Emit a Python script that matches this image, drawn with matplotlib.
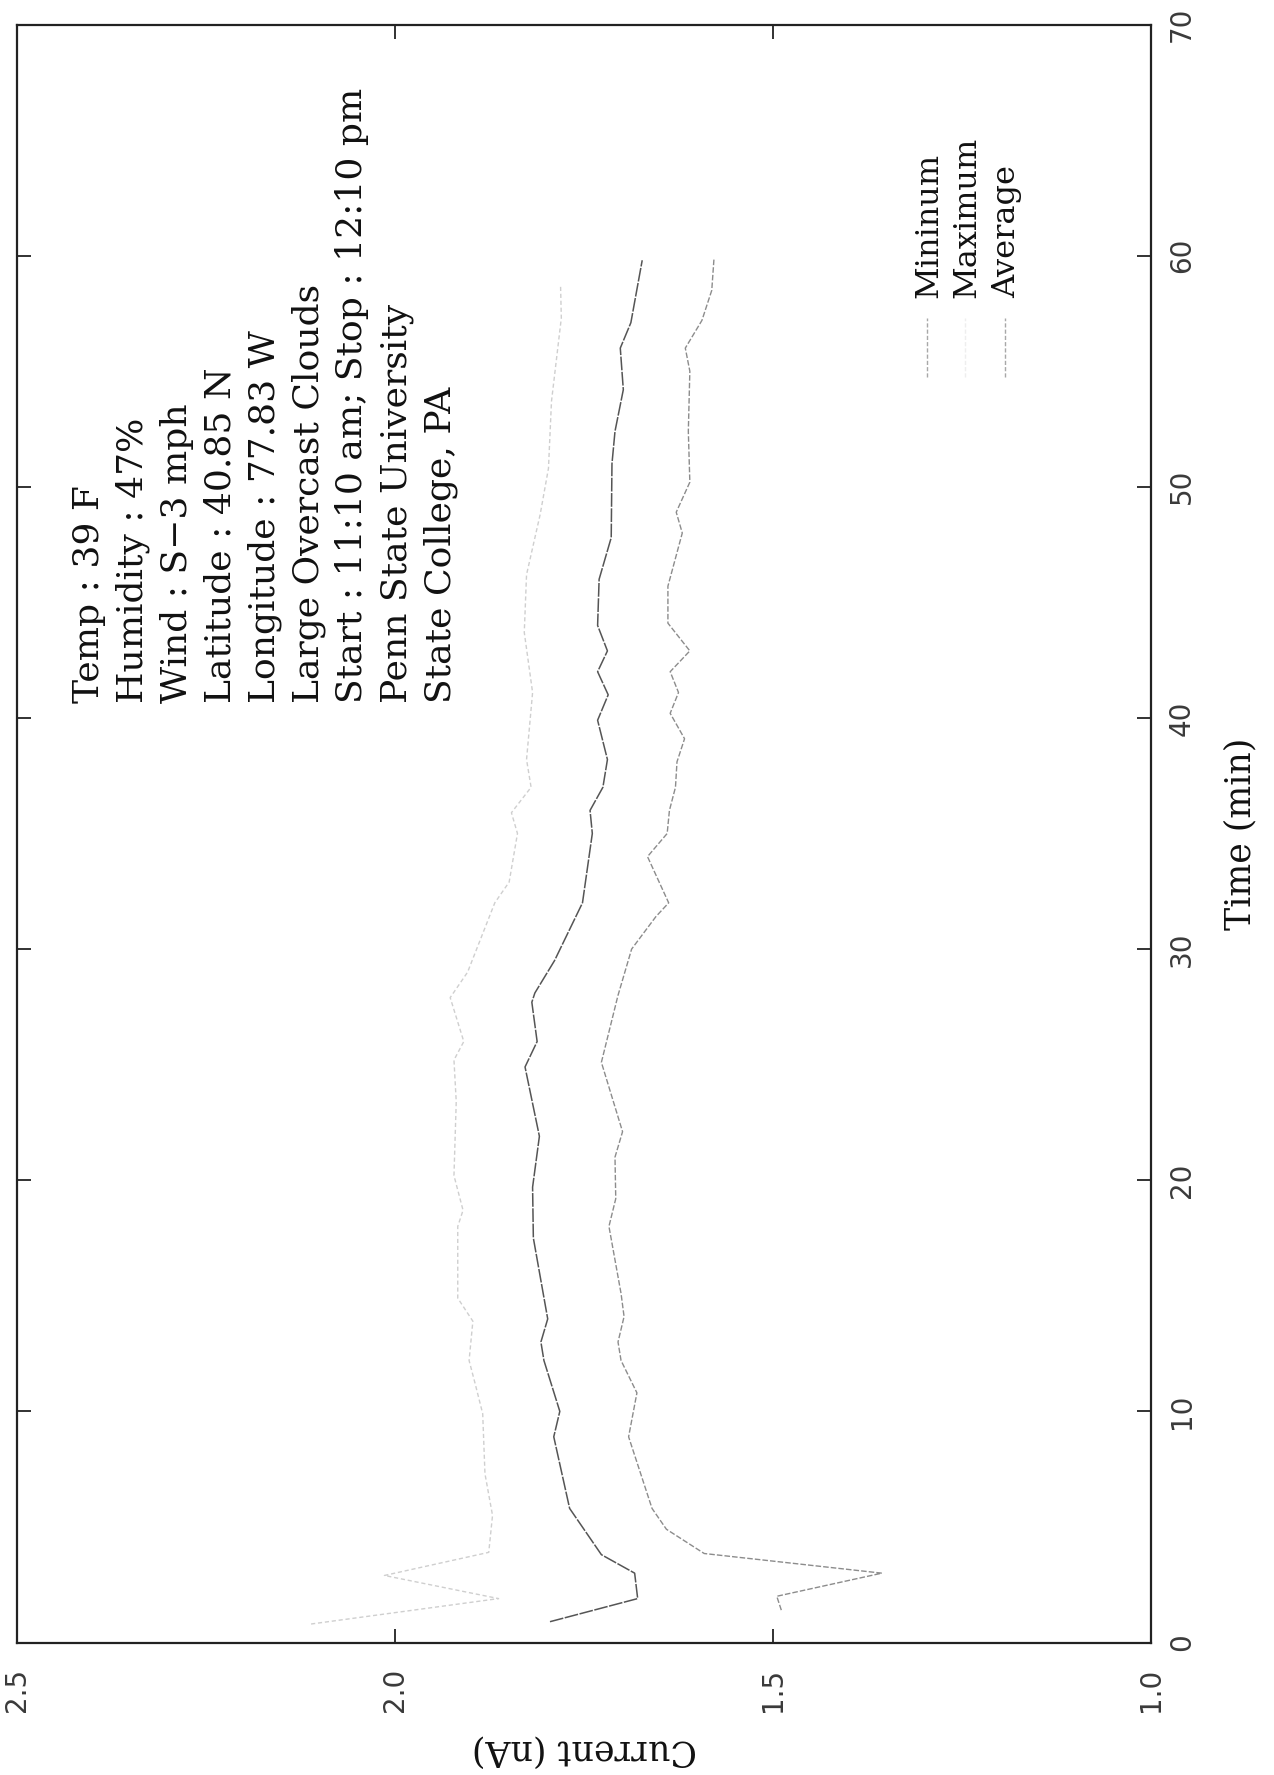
import matplotlib
matplotlib.use("Agg")
import matplotlib.pyplot as plt
from matplotlib.lines import Line2D

# ---------------- data ----------------
max_time = [0.8, 1.9, 2.9, 3.9, 5.5, 7.3, 9.9, 11.2, 12.2, 13.9, 14.9, 18.0, 18.7,
            20.2, 23.4, 25.2, 26.0, 27.9, 29.0, 32.0, 32.9, 35.0, 35.9, 37.0, 38.2,
            41.1, 43.7, 46.2, 48.8, 50.8, 53.7, 57.3, 58.7]
max_current = [2.111, 1.863, 2.014, 1.876, 1.871, 1.881, 1.884, 1.894, 1.902, 1.897,
               1.917, 1.917, 1.910, 1.922, 1.919, 1.922, 1.909, 1.927, 1.904, 1.868,
               1.849, 1.838, 1.846, 1.820, 1.826, 1.818, 1.829, 1.826, 1.808, 1.797,
               1.793, 1.780, 1.781]

avg_time = [0.9, 1.9, 3.0, 3.8, 5.8, 8.9, 10.0, 12.2, 13.0, 14.0, 17.5, 19.7, 21.9,
            24.9, 26.0, 27.7, 28.1, 29.5, 32.0, 35.0, 36.0, 37.0, 38.2, 39.9, 41.0,
            42.0, 42.9, 44.0, 46.0, 47.8, 51.0, 52.4, 54.2, 56.0, 57.1, 59.8]
avg_current = [1.795, 1.679, 1.683, 1.727, 1.769, 1.790, 1.782, 1.803, 1.807, 1.798,
               1.817, 1.818, 1.809, 1.828, 1.812, 1.819, 1.815, 1.789, 1.752, 1.739,
               1.742, 1.725, 1.719, 1.732, 1.718, 1.732, 1.719, 1.732, 1.730, 1.714,
               1.713, 1.709, 1.698, 1.702, 1.688, 1.673]

min_time = [1.4, 2.0, 3.0, 3.85, 4.9, 5.8, 8.9, 10.8, 12.2, 13.0, 14.1, 15.1, 18.0,
            19.2, 21.0, 22.1, 25.1, 28.0, 30.0, 31.4, 32.0, 34.0, 35.0, 36.0, 37.0,
            38.1, 39.1, 40.2, 41.1, 42.0, 42.9, 44.1, 45.7, 48.0, 48.9, 50.2, 52.4,
            55.0, 56.0, 57.2, 58.5, 59.9]
min_current = [1.489, 1.495, 1.356, 1.591, 1.641, 1.660, 1.691, 1.680, 1.701, 1.705,
               1.697, 1.701, 1.717, 1.708, 1.709, 1.699, 1.727, 1.705, 1.687, 1.655,
               1.638, 1.666, 1.640, 1.637, 1.629, 1.627, 1.617, 1.636, 1.625, 1.636,
               1.610, 1.639, 1.639, 1.620, 1.628, 1.610, 1.612, 1.610, 1.616, 1.594,
               1.581, 1.578]

current_ticks = [2.5, 2.0, 1.5, 1.0]
current_labels = ["2.5", "2.0", "1.5", "1.0"]
time_ticks = [0, 10, 20, 30, 40, 50, 60, 70]
time_labels = ["0", "10", "20", "30", "40", "50", "60", "70"]

legend_labels = ["Mininum", "Maximum", "Average"]

info_lines = ["Temp : 39 F",
              "Humidity : 47%",
              "Wind : S\u22123 mph",
              "Latitude : 40.85 N",
              "Longitude : 77.83 W",
              "Large Overcast Clouds",
              "Start : 11:10 am; Stop : 12:10 pm",
              "Penn State University",
              "State College, PA"]

# ---------------- styles ----------------
MIN_C = "#8c8c8c"
AVG_C = "#555555"
MAX_C = "#cfcfcf"
SERIF = ["DejaVu Serif"]
SANS = ["DejaVu Sans"]

FIG_W, FIG_H = 1274, 1775
AX_L, AX_R, AX_T, AX_B = 17, 1151, 24.5, 1642.5   # pixel frame of the axes

fig = plt.figure(figsize=(FIG_W / 100, FIG_H / 100), dpi=100)
ax = fig.add_axes([AX_L / FIG_W, 1 - AX_B / FIG_H,
                   (AX_R - AX_L) / FIG_W, (AX_B - AX_T) / FIG_H])

ax.plot(max_current, max_time, color=MAX_C, lw=1.0, ls=(0, (3, 2)))
ax.plot(avg_current, avg_time, color=AVG_C, lw=1.1, ls=(0, (9, 1)))
ax.plot(min_current, min_time, color=MIN_C, lw=1.0, ls=(0, (4, 1.5)))

ax.set_xlim(2.5, 1.0)
ax.set_ylim(0, 70)

ax.set_xticks(current_ticks)
ax.set_xticklabels(current_labels, rotation=90, family=SANS, fontsize=20)
ax.set_yticks(time_ticks)
ax.yaxis.tick_right()
ax.set_yticklabels(time_labels, rotation=90, family=SANS, fontsize=20, va="center")
ax.tick_params(axis="both", direction="in", length=10, width=1.3,
               top=True, bottom=True, left=True, right=True, colors="#222222")
ax.tick_params(axis="x", pad=18, labelcolor="#3a3a3a")
ax.tick_params(axis="y", pad=12, labelleft=False, labelright=True, labelcolor="#3a3a3a")

for s in ax.spines.values():
    s.set_linewidth(1.6)
    s.set_color("#222222")

ax.yaxis.set_label_position("right")
ax.set_ylabel("Time (min)", rotation=90, family=SERIF, fontsize=25, labelpad=20,
              color="#111111")
ax.set_xlabel("Current (nA)", rotation=180, family=SERIF, fontsize=25, labelpad=16,
              color="#111111")


def ax_x(px):
    return (px - AX_L) / (AX_R - AX_L)


def ax_y(py):
    return (AX_B - py) / (AX_B - AX_T)


# information block: one rotated line each, baselines ~44 px apart
for i, line in enumerate(info_lines):
    ax.text(ax_x(99 + 43.9 * i), ax_y(703), line, transform=ax.transAxes,
            rotation=90, rotation_mode="anchor", ha="left", va="baseline",
            family=SERIF, fontsize=26, color="#111111")

# legend (rotated, drawn by hand)
leg_base_px = [937, 975, 1015]
leg_styles = [dict(color="#a8a8a8", ls=(0, (3, 1.5)), lw=1.0),
              dict(color="#eeeeee", ls=(0, (3, 1.5)), lw=1.0),
              dict(color="#a8a8a8", ls=(0, (3, 1.5)), lw=1.0)]
for bx, lab, st in zip(leg_base_px, legend_labels, leg_styles):
    ax.text(ax_x(bx), ax_y(298), lab, transform=ax.transAxes, rotation=90,
            rotation_mode="anchor", ha="left", va="baseline",
            family=SERIF, fontsize=23, color="#111111")
    ax.add_line(Line2D([ax_x(bx - 10)] * 2, [ax_y(377), ax_y(318)],
                       transform=ax.transAxes, **st))

fig.savefig("out.png", dpi=100)
